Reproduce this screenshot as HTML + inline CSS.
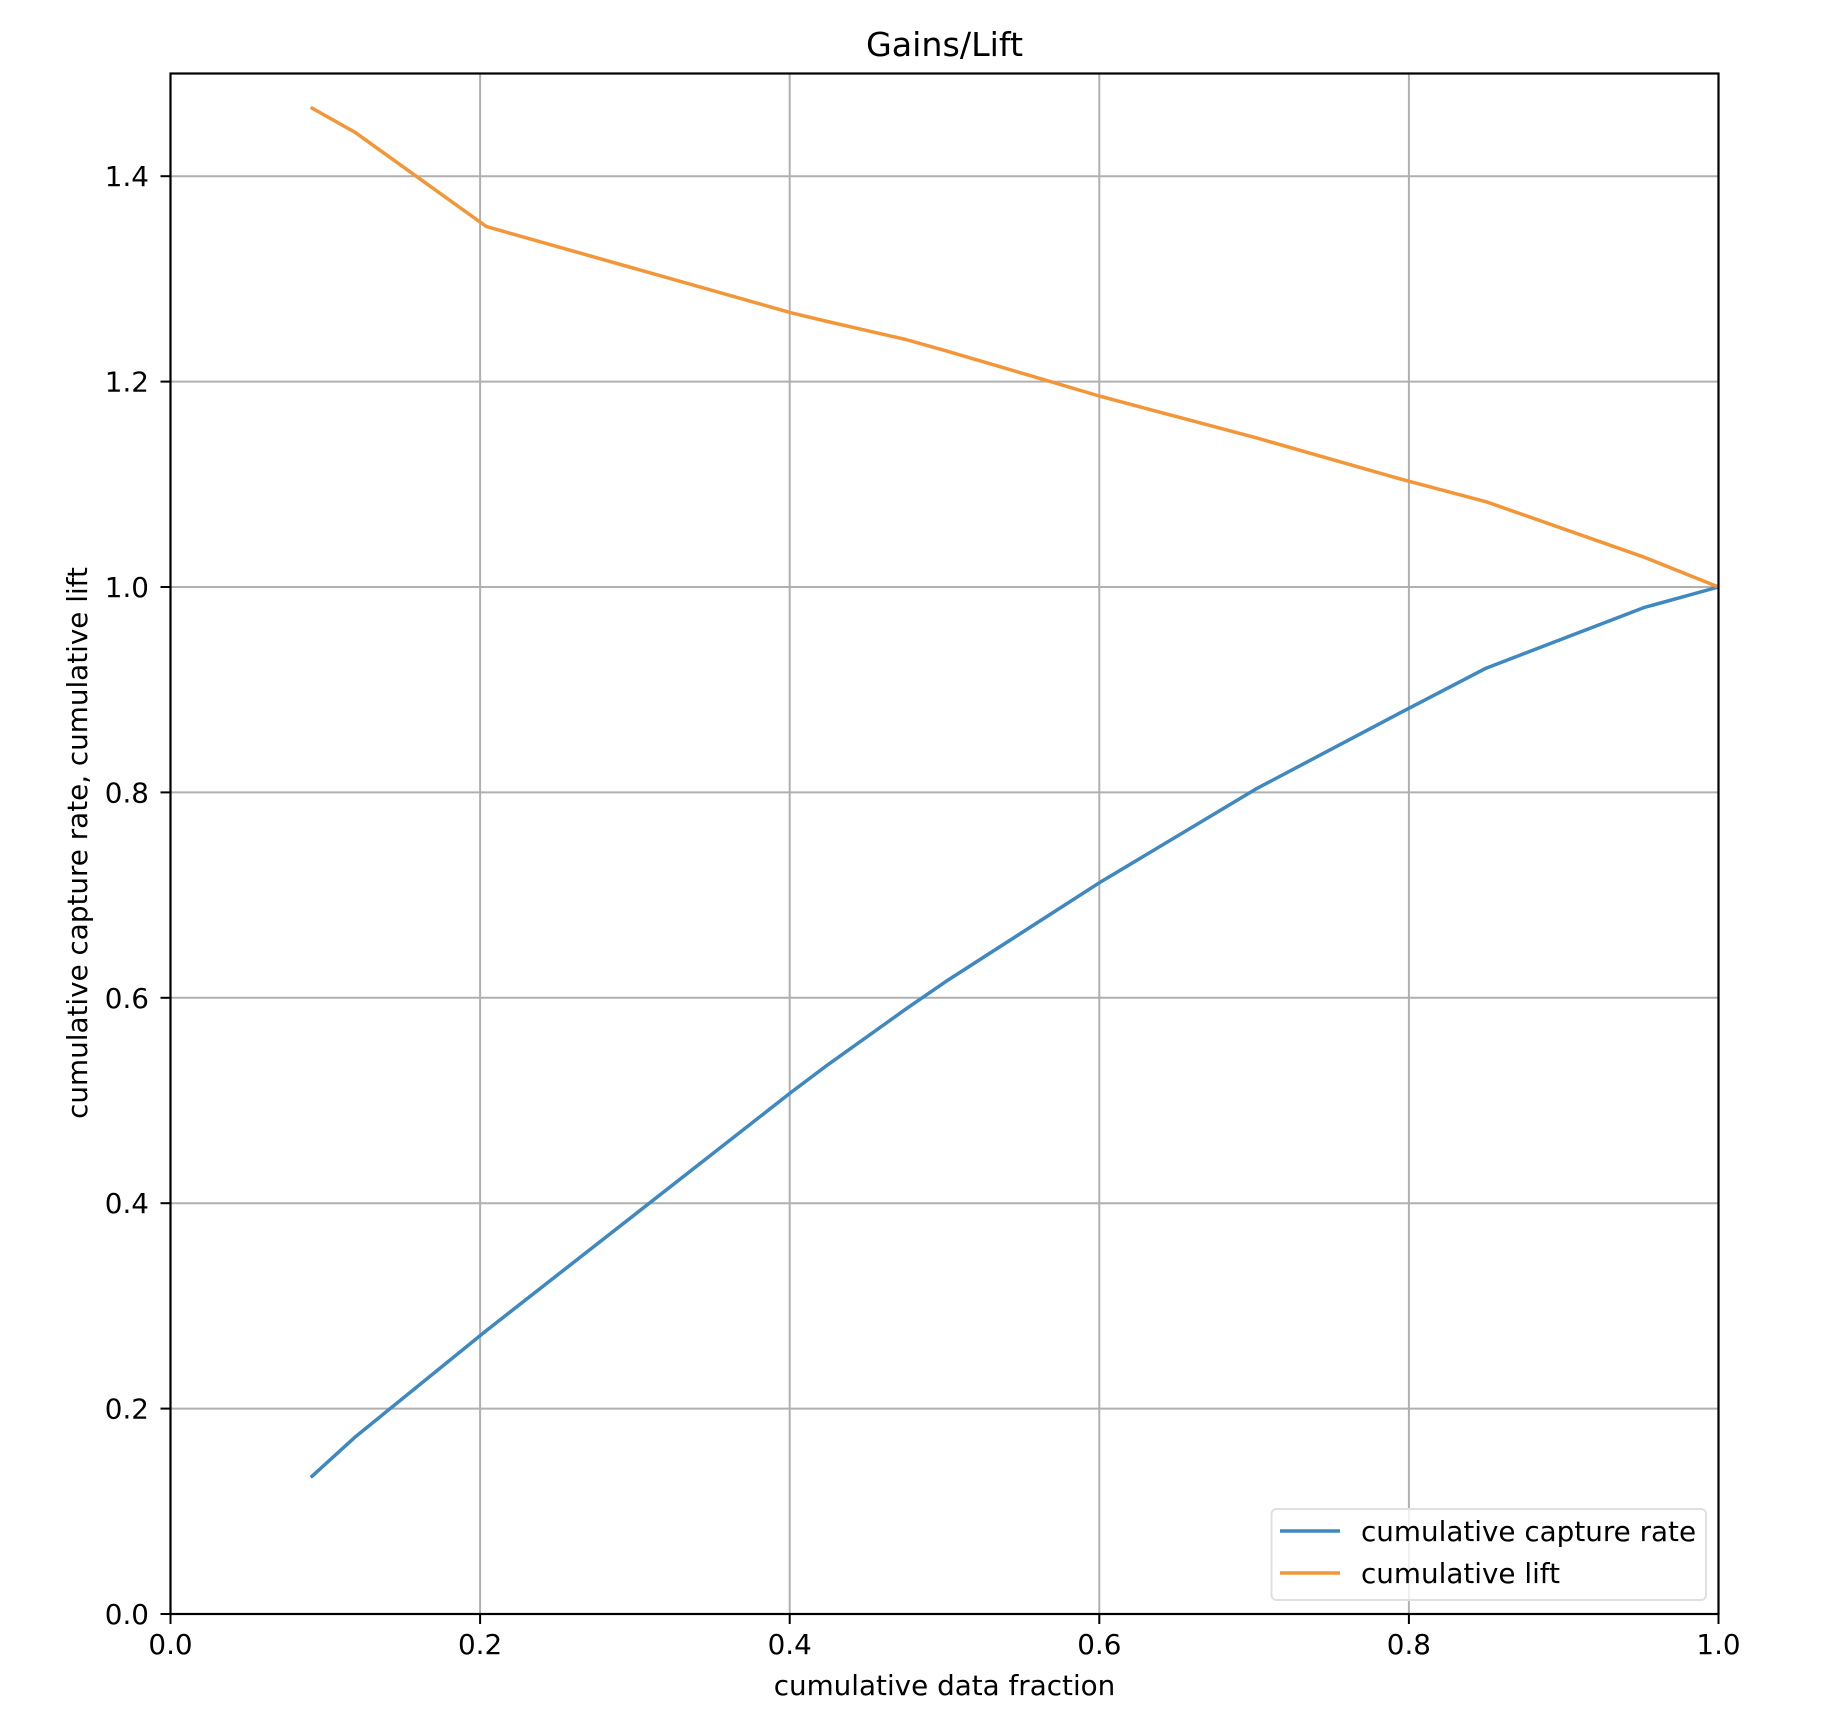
<!DOCTYPE html>
<html><head><meta charset="utf-8"><style>
html,body{margin:0;padding:0;background:#fff;}
svg{display:block;}
text{font-family:"DejaVu Sans","Liberation Sans",sans-serif;fill:#000;}
</style></head><body>
<svg width="1832" height="1724" viewBox="0 0 1832 1724" xmlns="http://www.w3.org/2000/svg">
<rect x="0" y="0" width="1832" height="1724" fill="#fff"/>
<g stroke="#b0b0b0" stroke-width="2">
<line x1="480.1" y1="73.5" x2="480.1" y2="1614"/>
<line x1="789.7" y1="73.5" x2="789.7" y2="1614"/>
<line x1="1099.3" y1="73.5" x2="1099.3" y2="1614"/>
<line x1="1408.9" y1="73.5" x2="1408.9" y2="1614"/>
<line x1="170.5" y1="1408.6" x2="1718.5" y2="1408.6"/>
<line x1="170.5" y1="1203.2" x2="1718.5" y2="1203.2"/>
<line x1="170.5" y1="997.8" x2="1718.5" y2="997.8"/>
<line x1="170.5" y1="792.4" x2="1718.5" y2="792.4"/>
<line x1="170.5" y1="587" x2="1718.5" y2="587"/>
<line x1="170.5" y1="381.6" x2="1718.5" y2="381.6"/>
<line x1="170.5" y1="176.2" x2="1718.5" y2="176.2"/>
</g>
<polyline fill="none" stroke="#3f88c0" stroke-width="3.5" stroke-linejoin="round" points="310.7,1477.4 354.7,1437.4 486.3,1330.6 791.2,1092.3 825.3,1066.6 905.8,1009.1 946,981.4 1099.3,882.8 1257.2,788.3 1401.2,712.3 1486.3,668.1 1644.2,607.5 1718.5,587"/>
<polyline fill="none" stroke="#f39638" stroke-width="3.5" stroke-linejoin="round" points="310.7,107.4 354.7,132.1 486.3,226.5 791.2,312.8 825.3,321 905.8,339.5 946,350.8 1099.3,396 1257.2,438.1 1401.2,479.2 1486.3,501.8 1644.2,557.2 1718.5,587"/>
<rect x="170.5" y="73.5" width="1548" height="1540.5" fill="none" stroke="#000" stroke-width="2.2"/>
<g stroke="#000" stroke-width="2">
<line x1="170.5" y1="1614" x2="170.5" y2="1624"/>
<line x1="480.1" y1="1614" x2="480.1" y2="1624"/>
<line x1="789.7" y1="1614" x2="789.7" y2="1624"/>
<line x1="1099.3" y1="1614" x2="1099.3" y2="1624"/>
<line x1="1408.9" y1="1614" x2="1408.9" y2="1624"/>
<line x1="1718.5" y1="1614" x2="1718.5" y2="1624"/>
<line x1="160.5" y1="1614" x2="170.5" y2="1614"/>
<line x1="160.5" y1="1408.6" x2="170.5" y2="1408.6"/>
<line x1="160.5" y1="1203.2" x2="170.5" y2="1203.2"/>
<line x1="160.5" y1="997.8" x2="170.5" y2="997.8"/>
<line x1="160.5" y1="792.4" x2="170.5" y2="792.4"/>
<line x1="160.5" y1="587" x2="170.5" y2="587"/>
<line x1="160.5" y1="381.6" x2="170.5" y2="381.6"/>
<line x1="160.5" y1="176.2" x2="170.5" y2="176.2"/>
</g>
<g font-size="27.8" text-anchor="middle">
<text x="170.5" y="1654">0.0</text>
<text x="480.1" y="1654">0.2</text>
<text x="789.7" y="1654">0.4</text>
<text x="1099.3" y="1654">0.6</text>
<text x="1408.9" y="1654">0.8</text>
<text x="1718.5" y="1654">1.0</text>
</g>
<g font-size="27.8" text-anchor="end">
<text x="149" y="1624">0.0</text>
<text x="149" y="1418.6">0.2</text>
<text x="149" y="1213.2">0.4</text>
<text x="149" y="1007.8">0.6</text>
<text x="149" y="802.4">0.8</text>
<text x="149" y="597">1.0</text>
<text x="149" y="391.6">1.2</text>
<text x="149" y="186.2">1.4</text>
</g>
<text x="944.5" y="1695" font-size="27.8" text-anchor="middle">cumulative data fraction</text>
<text transform="translate(87,843) rotate(-90)" font-size="27.8" text-anchor="middle">cumulative capture rate, cumulative lift</text>
<text x="944.5" y="56" font-size="33.3" text-anchor="middle">Gains/Lift</text>
<rect x="1271.5" y="1509" width="434.5" height="91" rx="5" fill="#fff" fill-opacity="0.8" stroke="#e0e0e0" stroke-width="2"/>
<line x1="1280" y1="1531" x2="1340" y2="1531" stroke="#3f88c0" stroke-width="3.5"/>
<line x1="1280" y1="1573" x2="1340" y2="1573" stroke="#f39638" stroke-width="3.5"/>
<g font-size="27.8">
<text x="1361" y="1541">cumulative capture rate</text>
<text x="1361" y="1583">cumulative lift</text>
</g>
</svg>
</body></html>
